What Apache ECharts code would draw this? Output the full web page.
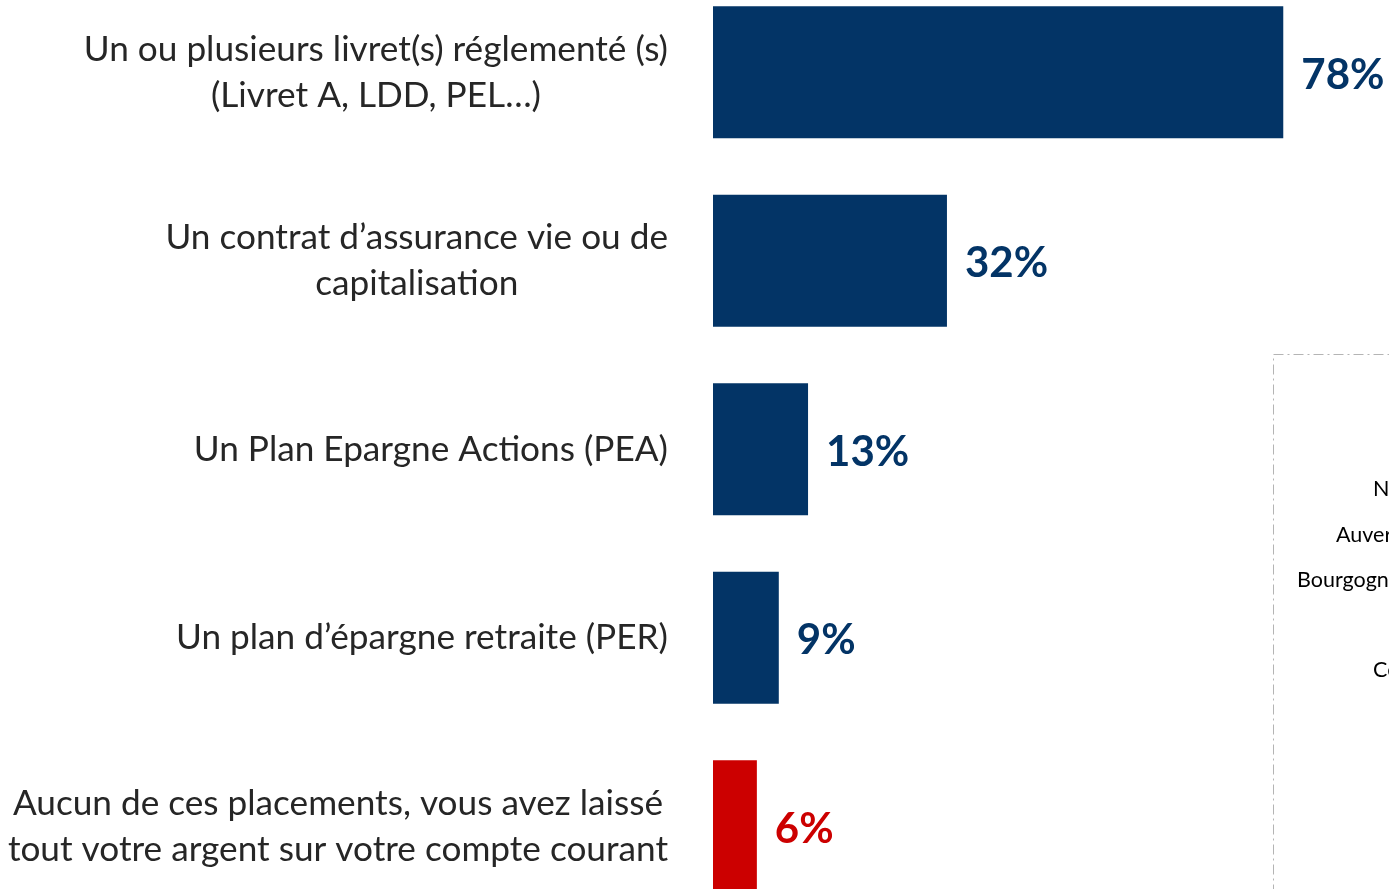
<!DOCTYPE html>
<html>
<head>
<meta charset="utf-8">
<script src="https://cdn.jsdelivr.net/npm/echarts@6/dist/echarts.min.js"></script>
<style>
html,body{margin:0;padding:0;background:#fff;}
#c{width:1389px;height:889px;}
</style>
</head>
<body>
<div id="c"></div>
<script>
const categories = [
  "Un ou plusieurs livret(s) réglementé (s)\n(Livret A, LDD, PEL…)",
  "Un contrat d’assurance vie ou de\ncapitalisation",
  "Un Plan Epargne Actions (PEA)",
  "Un plan d’épargne retraite (PER)",
  "Aucun de ces placements, vous avez laissé\ntout votre argent sur votre compte courant"
];
const values = [78, 32, 13, 9, 6];
const barColors = ["#033466", "#033466", "#033466", "#033466", "#CC0000"];
const sideLabels = ["Nouvelle-Aquitaine", "Auvergne-Rhône-Alpes", "Bourgogne-Franche-Comté", "Centre-Val de Loire"];

const chart = echarts.init(document.getElementById('c'), null, {renderer: 'canvas'});
const catFont = 'Lato';
chart.setOption({
  animation: false,
  grid: {left: 713, right: 18, top: -22, bottom: -31.5, containLabel: false, outerBoundsMode: 'none'},
  xAxis: {type: 'value', min: 0, max: 90, show: false},
  yAxis: {
    type: 'category', inverse: true, data: categories,
    axisLine: {show: false}, axisTick: {show: false}, splitLine: {show: false},
    axisLabel: {
      margin: 45, align: 'right',
      formatter: v => v.split('\n').map(l => '{c|' + l + '}').join('\n'),
      rich: {c: {align: 'center', fontFamily: catFont, fontSize: 35.2, lineHeight: 46, color: '#262626'}}
    }
  },
  series: [{
    type: 'bar',
    barCategoryGap: '30%',
    data: values.map((v, i) => ({value: v, itemStyle: {color: barColors[i]}, label: {color: barColors[i]}})),
    label: {
      show: true, position: 'right', distance: 18, offset: [0, 3],
      formatter: '{c}%', fontFamily: 'Lato', fontWeight: 'bold', fontSize: 42
    }
  }],
  graphic: [
    {type: 'rect', shape: {x: 1273.5, y: 354.5, width: 300, height: 700},
     style: {fill: 'none', stroke: '#b4b4b4', lineWidth: 1, lineDash: [10, 4, 2, 4]}, silent: true},
    {type: 'text', x: 1373, y: 489, style: {text: sideLabels[0], fontFamily: catFont, fontSize: 21.5, fill: '#000', textVerticalAlign: 'middle'}},
    {type: 'text', x: 1336, y: 535, style: {text: sideLabels[1], fontFamily: catFont, fontSize: 21.5, fill: '#000', textVerticalAlign: 'middle'}},
    {type: 'text', x: 1297, y: 580, style: {text: sideLabels[2], fontFamily: catFont, fontSize: 21.5, fill: '#000', textVerticalAlign: 'middle'}},
    {type: 'text', x: 1373, y: 670, style: {text: sideLabels[3], fontFamily: catFont, fontSize: 21.5, fill: '#000', textVerticalAlign: 'middle'}}
  ]
});
</script>
</body>
</html>
